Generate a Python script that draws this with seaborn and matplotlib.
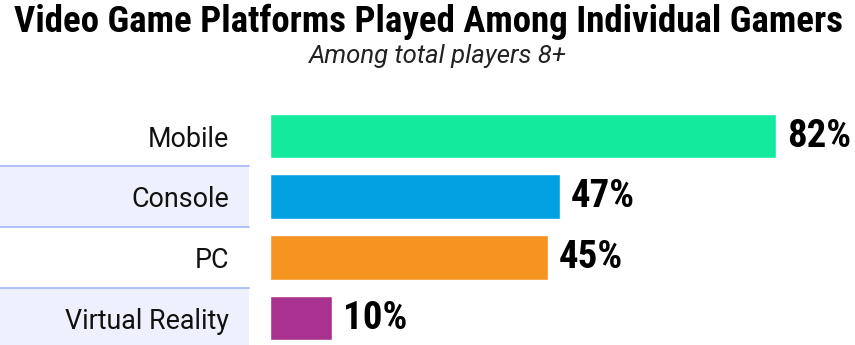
import matplotlib
matplotlib.use("Agg")
import matplotlib.pyplot as plt
import matplotlib.transforms as mtransforms
from matplotlib.patches import Rectangle
import seaborn as sns
import pandas as pd

categories = ["Mobile", "Console", "PC", "Virtual Reality"]
values = [82, 47, 45, 10]
value_labels = ["82%", "47%", "45%", "10%"]
colors = ["#13EA9E", "#03A1E2", "#F59420", "#A93291"]
title = "Video Game Platforms Played Among Individual Gamers"
subtitle = "Among total players 8+"

sns.set_theme(style="white")
plt.rcParams["font.family"] = ["Roboto", "DejaVu Sans"]

COND = ["Roboto Condensed", "DejaVu Sans"]

W, H = 855, 345
fig = plt.figure(figsize=(W / 100, H / 100), dpi=100)
fig.patch.set_facecolor("white")

px_per_unit = (776 - 270) / 82.0
left_px = 270
xmax = (W - left_px) / px_per_unit
row_h = 60.67
top_px = 136 - row_h / 2
height_px = row_h * 4
ax = fig.add_axes([left_px / W, 1 - (top_px + height_px) / H, (W - left_px) / W, height_px / H])

df = pd.DataFrame({"platform": categories, "pct": values})
sns.barplot(data=df, x="pct", y="platform", hue="platform", palette=colors,
            order=categories, hue_order=categories, width=0.74, legend=False,
            saturation=1, ax=ax)
ax.set_xlim(0, xmax)
ax.set_ylim(3.5, -0.5)
ax.set_xlabel("")
ax.set_ylabel("")
ax.set_xticks([])
for s in ax.spines.values():
    s.set_visible(False)
ax.patch.set_alpha(0)
ax.tick_params(axis="y", length=0, pad=29.5, labelsize=19.4, labelcolor="#111111")

# bands on the label column
trans = mtransforms.blended_transform_factory(fig.transFigure, ax.transData)
band_w = 249 / W
for i in [1, 3]:
    ax.add_patch(Rectangle((0, i - 0.5), band_w, 1.0, transform=trans,
                           facecolor="#EEF1FD", edgecolor="none", clip_on=False, zorder=0))
for yb in [0.5, 1.5, 2.5]:
    ax.plot([0, band_w], [yb, yb], transform=trans, color="#A3B5F7", lw=1.2,
            clip_on=False, zorder=1)

for i, (v, lab) in enumerate(zip(values, value_labels)):
    ax.annotate(lab, xy=(v, i), xytext=(8, 0), textcoords="offset points",
                ha="left", va="center", fontsize=28, fontweight="bold",
                family=COND, color="black")

fig.text(428 / W, 1 - 32 / H, title, ha="center", va="baseline", fontsize=26.6,
         fontweight="bold", family=COND, color="black")
fig.text(437 / W, 1 - 63 / H, subtitle, ha="center", va="baseline", fontsize=18.5,
         style="italic", family=["Roboto", "DejaVu Sans"], color="#222222")

fig.savefig("out.png", dpi=100, facecolor="white")
